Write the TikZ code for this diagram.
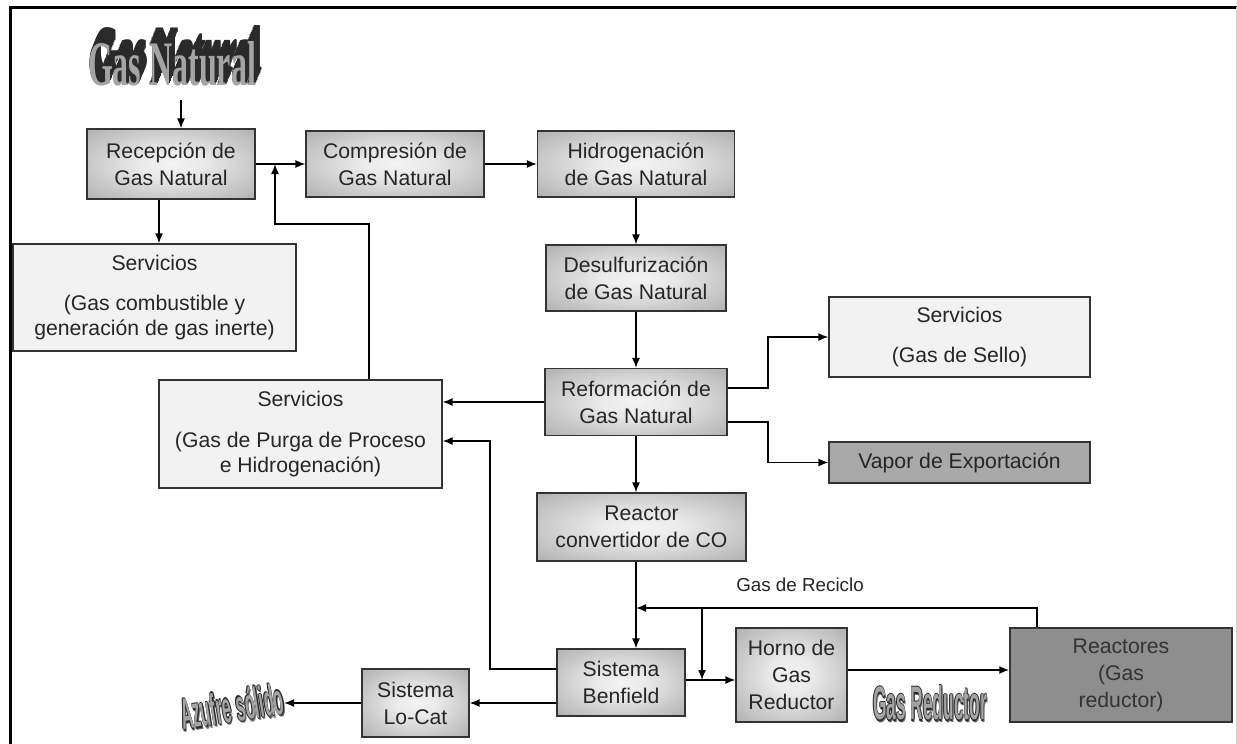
\documentclass[tikz,border=0pt]{standalone}
\usepackage{fontspec}
\setmainfont{Liberation Sans}
\newfontfamily\artserif{Liberation Serif}
\usepackage{tikz}
\usetikzlibrary{arrows.meta,calc,positioning}
\definecolor{boxline}{HTML}{333333}
\definecolor{boxedge}{HTML}{999999}
\definecolor{boxcore}{HTML}{F4F4F4}
\definecolor{svcfill}{HTML}{F2F2F2}
\definecolor{vapfill}{HTML}{A9A9A9}
\definecolor{reacfill}{HTML}{8E8E8E}
\definecolor{txtdark}{HTML}{262626}
\definecolor{artdark}{HTML}{2A2A2A}
\definecolor{artfront}{HTML}{A4A4A4}
\definecolor{artshadow}{HTML}{6E6E6E}
\pgfdeclareradialshading{boxglow}{\pgfpoint{0bp}{0bp}}{color(0bp)=(boxcore); color(10bp)=(boxcore!88!boxedge); color(46bp)=(boxedge); color(50bp)=(boxedge)}
\newcommand{\embossed}[1]{\rlap{\smash{\kern0.06em\raisebox{-0.06em}{\textcolor{artshadow}{#1}}}}%
  \rlap{\kern-0.035em\textcolor{artdark}{#1}}\rlap{\kern0.035em\textcolor{artdark}{#1}}%
  \rlap{\smash{\raisebox{0.03em}{\textcolor{artdark}{#1}}}}\rlap{\smash{\raisebox{-0.03em}{\textcolor{artdark}{#1}}}}%
  \textcolor{artfront}{#1}}
\newcommand{\extruded}[1]{\foreach \k in {16,15,...,1}{\rlap{\smash{\kern\dimexpr0.013em*\k\relax\raisebox{\dimexpr0.016em*\k\relax}{\textcolor{artdark}{#1}}}}}%
  \textcolor{artfront}{#1}}

\begin{document}
\begin{tikzpicture}[x=0.5pt,y=-0.5pt,>={Latex[length=5pt,width=4pt]},line width=0.7pt,font=\fontsize{10.6}{13.5}\selectfont]
    \tikzstyle{gbox}=[draw=boxline,line width=0.6pt,shade,shading=boxglow,inner sep=0pt,align=center,text=txtdark]
    \tikzstyle{sbox}=[draw=boxline,line width=0.6pt,fill=svcfill,inner sep=0pt,align=center,text=txtdark,font=\fontsize{10.6}{12.3}\selectfont]
    \tikzstyle{fbox}=[draw=boxline,line width=0.6pt,inner sep=0pt,align=center,text=txtdark]
    \tikzstyle{natart}=[inner sep=0pt,font=\artserif\bfseries]
    \tikzstyle{redart}=[inner sep=0pt,font=\bfseries]
    \useasboundingbox (0,0) rectangle (1237,744);
    \draw[line width=1.5pt] (10,744) -- (10,7) -- (1237,7);
    \draw[gray!35,line width=0.5pt] (1236,7) -- (1236,744);
    \node[natart] (gasnat) at (172,64) {\resizebox{84pt}{22pt}{\extruded{Gas Natural}}};
    \node[gbox,minimum width=84pt,minimum height=35pt] (rec) at (171,164) {Recepción de\\Gas Natural};
    \node[gbox,minimum width=89pt,minimum height=33pt] (comp) at (395,164) {Compresión de\\Gas Natural};
    \node[gbox,minimum width=98.5pt,minimum height=33pt] (hid) at (636,164) {Hidrogenación\\de Gas Natural};
    \node[gbox,minimum width=90pt,minimum height=33pt] (des) at (636,278) {Desulfurización\\de Gas Natural};
    \node[gbox,minimum width=91pt,minimum height=33.5pt] (ref) at (636,402) {Reformación de\\Gas Natural};
    \node[sbox,minimum width=141.5pt,minimum height=53.5pt] (comb) at (154.5,297.5) {Servicios\\[8pt](Gas combustible y\\generación de gas inerte)};
    \node[sbox,minimum width=141.5pt,minimum height=54pt] (purga) at (300.5,434) {Servicios\\[8pt](Gas de Purga de Proceso\\e Hidrogenación)};
    \node[sbox,minimum width=130.5pt,minimum height=40pt] (sello) at (959.5,337) {Servicios\\[8pt](Gas de Sello)};
    \node[fbox,fill=vapfill,minimum width=130.5pt,minimum height=20.5pt] (vapor) at (959.5,462.5) {Vapor de Exportación};
    \node[gbox,minimum width=104.5pt,minimum height=34pt] (conv) at (641.5,527) {Reactor\\convertidor de CO};
    \node[gbox,minimum width=64pt,minimum height=33.5pt] (benf) at (621,682.5) {Sistema\\Benfield};
    \node[gbox,minimum width=53.5pt,minimum height=34pt] (locat) at (415.5,703) {Sistema\\Lo-Cat};
    \node[gbox,minimum width=55.5pt,minimum height=47pt] (horno) at (791.5,675) {Horno de\\Gas\\Reductor};
    \node[fbox,fill=reacfill,text=black!80,minimum width=111pt,minimum height=47pt] (reac) at (1121,675) {Reactores\\(Gas\\reductor)};
    \node[font=\fontsize{9.4}{11}\selectfont,text=txtdark] (reclbl) at (800,585) {Gas de Reciclo};
    \node[redart] (gasred) at (930,703) {\resizebox{57pt}{17pt}{\embossed{Gas Reductor}}};
    \node[redart,rotate=9] (azufre) at (232,706) {\resizebox{52pt}{16pt}{\embossed{Azufre sólido}}};
    \coordinate (gin) at (181,100);
    \coordinate (cin) at (159,230);
    \coordinate (rr) at (369,224);
    \coordinate (rl) at (275,224);
    \coordinate (sa) at (768,388);
    \coordinate (va) at (768,422);
    \coordinate (bpa) at (490,669);
    \coordinate (bpb) at (490,441);
    \coordinate (rtop) at (1037,608);
    \coordinate (rj) at (702,608);
    \coordinate (bh) at (702,680);
    \draw[->] (gin) -- (gin |- rec.north);
    \draw[->] (rec.east) -- (comp.west);
    \draw[->] (comp.east) -- (hid.west);
    \draw[->] (hid.south) -- (hid.south |- des.north);
    \draw[->] (des.south) -- (des.south |- ref.north);
    \draw[->] (cin |- rec.south) -- (cin |- comb.north);
    \draw[->] (rr |- purga.north) -- (rr) -- (rl) -- (rl |- rec.east);
    \draw[->] (ref.west) -- (ref.west -| purga.east);
    \draw[->] (sa -| ref.east) -- (sa) |- (sello.west);
    \draw[->] (va -| ref.east) -- (va) |- (vapor.west);
    \draw[->] (ref.south) -- (ref.south |- conv.north);
    \draw[->] (conv.south -| ref.south) -- (ref.south |- benf.north);
    \draw[->] (bpa -| benf.west) -- (bpa) -- (bpb) -- (bpb -| purga.east);
    \draw[->] (rtop |- reac.north) -- (rtop) -- (rtop -| ref.south);
    \draw[->] (rj) -- (bh);
    \draw[->] (bh -| benf.east) -- (bh -| horno.west);
    \draw[->,line width=1.2pt] ([yshift=2.5pt]horno.east) -- ([yshift=2.5pt]reac.west);
    \draw[->] (benf.west |- locat.east) -- (locat.east);
    \draw[->] (locat.west) -- (locat.west -| azufre.east);
  \end{tikzpicture}
\end{document}
